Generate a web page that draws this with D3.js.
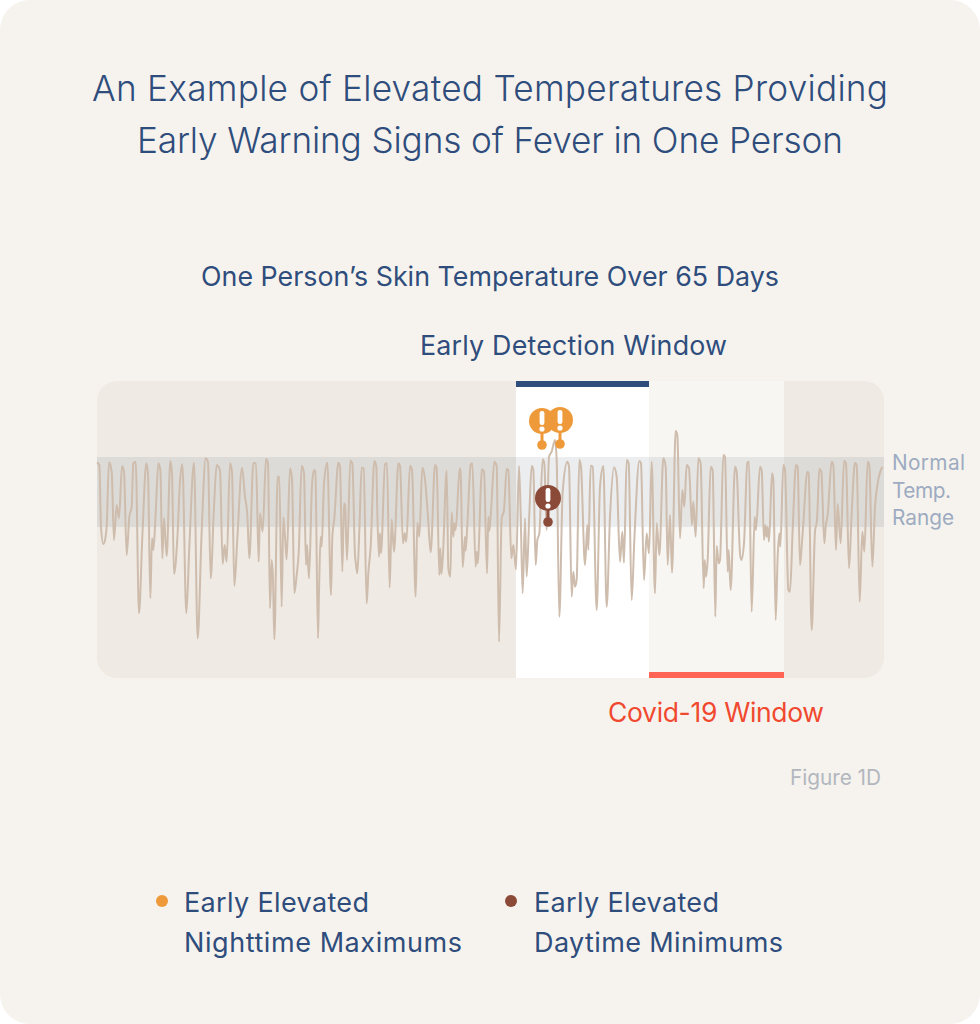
<!DOCTYPE html>
<html>
<head>
<meta charset="utf-8">
<title>Elevated Temperatures</title>
<script src="https://cdn.jsdelivr.net/npm/d3@7"></script>
<style>
  html, body { margin: 0; padding: 0; background: #fff; }
  svg { display: block; }
  text { font-family: Inter, "Noto Sans", sans-serif; }
</style>
</head>
<body>
<div class="grap"></div>
<script>
// readings along the 65 days (0 to 2361), one entry per turning point of the curve
const readingTimes = [
  0,7,12,19,25,29,36,44,51,59,66,75,81,89,97,104,109,116,126,136,148,153,160,165,169,176,184,190,196,201,209,
  220,225,231,241,249,256,268,277,291,302,314,326,333,341,351,359,369,377,383,389,399,405,412,421,435,444,451,
  457,469,477,485,489,497,507,513,519,524,528,532,542,547,554,559,564,569,579,585,592,599,605,614,621,627,630,
  636,645,651,655,663,666,671,674,681,691,702,706,712,724,729,736,741,744,750,760,766,774,777,781,787,794,800,
  809,814,821,832,838,841,846,849,852,864,870,878,884,891,904,909,918,923,928,939,945,956,961,967,976,983,993,
  1001,1014,1019,1027,1030,1033,1037,1049,1054,1060,1064,1069,1072,1076,1088,1091,1097,1104,1106,1111,1121,1126,
  1136,1139,1142,1155,1161,1170,1174,1177,1181,1192,1199,1206,1214,1221,1229,1234,1243,1249,1257,
  1266,1271,1277,1284,1289,1297,1304,1309,1316,1321,1327,1337,1342,1349,1356,1364,1374,1379,1387,1397,1411,1416,
  1424,1429,1434,1439,1447,1452,1464,1471,1474,1481,1487,1499,1509,1519,1529,1539,1551,1559,1569,1576,1581,1589,
  1595,1604,1612,1627,1632,1641,1649,1656,1664,1674,1679,1687,1699,1706,1712,1719,1725,1736,1741,1749,1756,1762,
  1769,1776,1785,1789,1796,1804,1811,1820,1823,1827,1832,1841,1847,1855,1859,1865,1869,1879,1884,1892,1895,1901,
  1914,1919,1929,1933,1941,1951,1956,1964,1973,1977,1989,1994,2001,2005,2009,2012,2016,2025,2029,2036,2042,2047,
  2050,2059,2064,2074,2079,2087,2097,2102,2109,2114,2119,2131,2135,2144,2154,2160,2167,2173,2182,2186,2192,2204,
  2209,2217,2222,2231,2241,2247,2256,2264,2274,2279,2288,2296,2302,2312,2317,2326,2334,2342,2356
];
// skin temperature in hundredths of a degree (the chart prints no scale, so the unit is an estimate)
const readingTemps = [
  3584,3576,3391,3339,3356,3391,3584,3556,3351,3456,3416,3573,3556,3306,3421,3451,3581,3586,3131,3361,3581,3551,3176,3356,3321,3431,3581,3561,3296,3416,3303,
  3588,3551,3249,3356,3526,3578,3131,3331,3583,3056,3376,3596,3584,3236,3451,3576,3559,3279,3336,3286,3581,3556,3213,3356,3568,3481,3426,
  3296,3581,3581,3286,3431,3376,3594,3581,3146,3291,3231,3053,3541,3541,3151,3419,3361,3293,3566,3536,3191,3246,3311,3574,3551,3276,3336,
  3236,3516,3561,3556,3056,3196,3361,3331,3521,3583,3186,3361,3416,3583,3571,3256,3461,3456,3291,3589,3581,3306,3276,3251,3381,3568,3566,
  3161,3251,3331,3588,3571,3431,3301,3371,3311,3579,3581,3208,3413,3316,3581,3573,3341,3371,3346,3574,3561,3181,3403,3361,3568,3541,3421,
  3314,3576,3566,3246,3326,3249,3291,3559,3266,3241,3434,3361,3401,3381,3566,3551,3269,3361,3319,3396,3576,3581,
  3271,3316,3281,3563,3556,3251,3421,3378,3421,3586,3573,3046,3416,3441,3564,3561,3296,3336,3263,
  3573,3431,3191,3416,3241,3431,3573,3561,3276,3351,3371,3593,3581,3381,3601,3616,3651,3591,3121,3496,3586,3571,
  3181,3256,3211,3231,3591,3571,3276,3396,3321,3574,3571,3141,3511,3573,3151,3421,3569,3541,3286,3376,3283,3591,
  3581,3171,3351,3588,3581,3231,3371,3311,3586,3191,3401,3306,3596,3571,3276,3426,3253,3678,3666,3356,3501,3451,
  3576,3566,3396,3466,3361,3596,3581,3206,3291,3241,3291,3571,3561,3121,3333,3281,3291,3606,3601,3256,3321,3201,
  3571,3556,3311,3291,3341,3583,3586,3136,3421,3381,3571,3561,3351,3396,3361,3391,3346,3551,3531,3111,3301,3371,
  3331,3576,3561,3201,3196,3381,3576,3571,3276,3331,3401,3556,3551,3081,3376,3411,3564,3556,3341,3391,3426,3586,
  3576,3321,3459,3341,3589,3581,3266,3431,3583,3576,3166,3376,3316,3586,3576,3271,3451,3521,3571
];

const timeExtent = [0, 2361];
const tempExtent = [3828, 2937];
const normalRange = [3600, 3390];
const earlyWindow = [1257, 1656];
const covidWindow = [1656, 2061];

// alert pins: time, temperature
const nightPins = [[1335, 3636], [1389, 3639]];
const dayPins = [[1353, 3405]];

const titleLines = ["An Example of Elevated Temperatures Providing", "Early Warning Signs of Fever in One Person"];
const rangeLabels = ["Normal", "Temp.", "Range"];
const legendNight = ["Early Elevated", "Nighttime Maximums"];
const legendDay = ["Early Elevated", "Daytime Minimums"];

const navy = "#2f4d7c", orange = "#ef9a3a", brown = "#8b4a38", coral = "#ff6455";

const svg = d3.select(".grap").append("svg").attr("width", 980).attr("height", 1024);

const x = d3.scaleLinear().domain(timeExtent).range([97, 884]);
const y = d3.scaleLinear().domain(tempExtent).range([381, 678]);

function addText(str, px, py, width, size, fill, weight) {
    return svg.append("text")
        .attr("x", px).attr("y", py)
        .attr("textLength", width)
        .attr("lengthAdjust", "spacing")
        .attr("font-size", size)
        .attr("fill", fill)
        .attr("font-weight", weight || 400)
        .text(str);
}

// card
svg.append("rect").attr("width", 980).attr("height", 1024).attr("rx", 30).attr("fill", "#f6f3ee");

addText(titleLines[0], 92, 101, 796, 35.2, navy, 300);
addText(titleLines[1], 137, 153, 706, 35.2, navy, 300);
addText("One Person\u2019s Skin Temperature Over 65 Days", 201, 286, 578, 26.8, navy);
addText("Early Detection Window", 420, 355, 307, 26.8, navy);
addText("Covid-19 Window", 608, 722, 216, 26.5, "#f0492f");
addText("Figure 1D", 790, 785, 91, 20.8, "#b2b7be");

// panel and windows
svg.append("rect")
    .attr("x", x(timeExtent[0])).attr("y", y(tempExtent[0]))
    .attr("width", x(timeExtent[1]) - x(timeExtent[0])).attr("height", y(tempExtent[1]) - y(tempExtent[0]))
    .attr("rx", 20).attr("fill", "#efeae3");
svg.append("rect")
    .attr("x", x(earlyWindow[0])).attr("y", y(tempExtent[0]))
    .attr("width", x(earlyWindow[1]) - x(earlyWindow[0])).attr("height", y(tempExtent[1]) - y(tempExtent[0]))
    .attr("fill", "#fff");
svg.append("rect")
    .attr("x", x(covidWindow[0])).attr("y", y(tempExtent[0]))
    .attr("width", x(covidWindow[1]) - x(covidWindow[0])).attr("height", y(tempExtent[1]) - y(tempExtent[0]))
    .attr("fill", "#f8f6f2");
svg.append("rect")
    .attr("x", x(earlyWindow[0])).attr("y", y(tempExtent[0]))
    .attr("width", x(earlyWindow[1]) - x(earlyWindow[0])).attr("height", 6)
    .attr("fill", navy);
svg.append("rect")
    .attr("x", x(covidWindow[0])).attr("y", y(tempExtent[1]) - 6)
    .attr("width", x(covidWindow[1]) - x(covidWindow[0])).attr("height", 6)
    .attr("fill", coral);

// normal range band
svg.append("rect")
    .attr("x", x(timeExtent[0])).attr("y", y(normalRange[0]))
    .attr("width", x(timeExtent[1]) - x(timeExtent[0])).attr("height", y(normalRange[1]) - y(normalRange[0]))
    .attr("fill", "#7a8794").attr("fill-opacity", 0.15);

[73, 59, 62].forEach((w, i) => addText(rangeLabels[i], 892, 470 + i * 27.5, w, 20.8, "#9dabc1"));

// temperature line
const line = d3.line()
    .curve(d3.curveMonotoneX)
    .x((d, i) => x(d))
    .y((d, i) => y(readingTemps[i]));

svg.append("path")
    .datum(readingTimes)
    .attr("fill", "none")
    .attr("stroke", "#cebcad")
    .attr("stroke-width", 2)
    .attr("stroke-linejoin", "round")
    .attr("d", line);

// alert pins, head sits above the point for night and day alike
function addPin(d, color) {
    const px = x(d[0]), py = y(d[1]);
    const g = svg.append("g").attr("transform", `translate(${px},${py})`);
    g.append("line").attr("y1", 0).attr("y2", -24).attr("stroke", color).attr("stroke-width", 3);
    g.append("circle").attr("r", 4.8).attr("fill", color);
    g.append("circle").attr("cy", -24).attr("r", 13).attr("fill", color);
    g.append("rect").attr("x", -2.4).attr("y", -34).attr("width", 4.8).attr("height", 14).attr("rx", 2.2).attr("fill", "#fff");
    g.append("circle").attr("cy", -16).attr("r", 2.6).attr("fill", "#fff");
}
nightPins.forEach(d => addPin(d, orange));
dayPins.forEach(d => addPin(d, brown));

// legend
svg.append("circle").attr("cx", 162).attr("cy", 901).attr("r", 6).attr("fill", orange);
addText(legendNight[0], 184, 912, 185, 27, navy);
addText(legendNight[1], 184, 952, 278, 27, navy);
svg.append("circle").attr("cx", 511).attr("cy", 901).attr("r", 6).attr("fill", brown);
addText(legendDay[0], 534, 912, 185, 27, navy);
addText(legendDay[1], 534, 952, 249, 27, navy);
</script>
</body>
</html>
